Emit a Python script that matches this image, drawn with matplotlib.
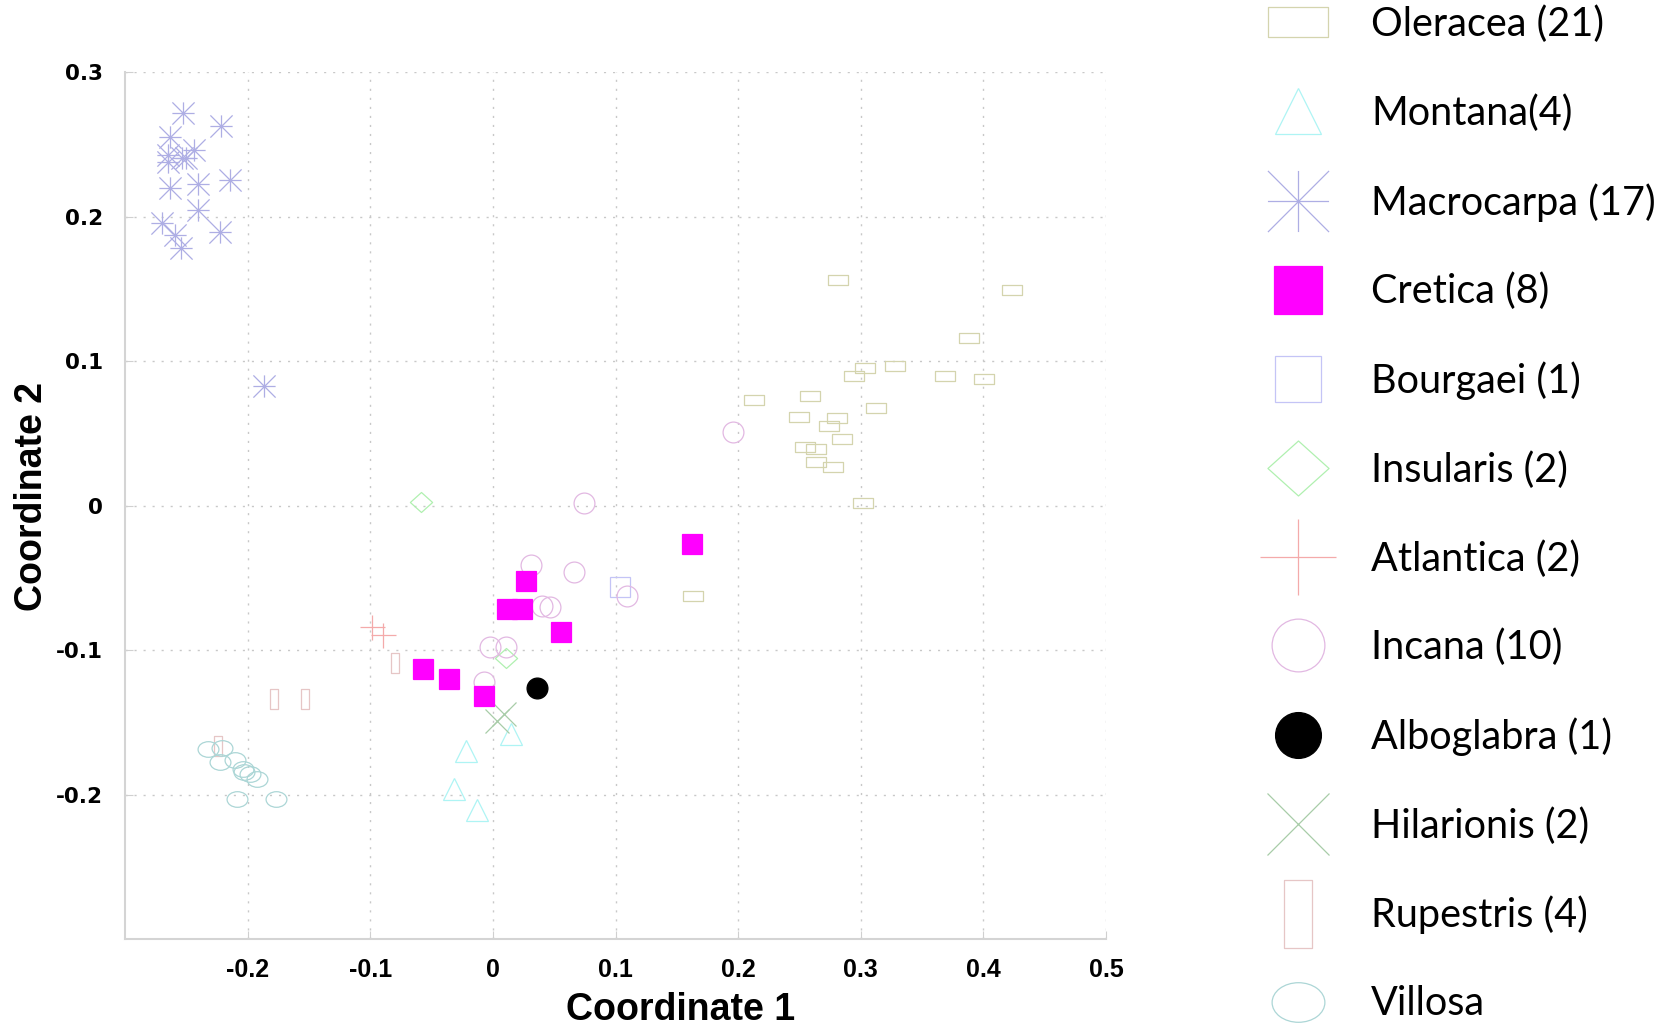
import numpy as np
import matplotlib.pyplot as plt
from matplotlib.path import Path
from matplotlib.transforms import Affine2D
from matplotlib.lines import Line2D

# coordinates
oleracea_x = [0.2817, 0.4232, 0.3880, 0.3033, 0.3281, 0.2943, 0.3683, 0.4002, 0.2125, 0.2587, 0.3125,
              0.2494, 0.2803, 0.2740, 0.2847, 0.2541, 0.2631, 0.2631, 0.2770, 0.3016, 0.1634]
oleracea_y = [0.1561, 0.1494, 0.1159, 0.0954, 0.0966, 0.0899, 0.0899, 0.0873, 0.0731, 0.0756, 0.0678,
              0.0614, 0.0604, 0.0552, 0.0459, 0.0407, 0.0395, 0.0303, 0.0266, 0.0018, -0.0628]
montana_x = [-0.0221, -0.0315, -0.0129, 0.0144]
montana_y = [-0.1697, -0.1961, -0.2110, -0.1582]
macrocarpa_x = [-0.2528, -0.2219, -0.2634, -0.2438, -0.2651, -0.2539, -0.2651, -0.2506, -0.2634,
                -0.2402, -0.2143, -0.2402, -0.2697, -0.2596, -0.2225, -0.2541, -0.1864]
macrocarpa_y = [0.2717, 0.2625, 0.2552, 0.2459, 0.2423, 0.2407, 0.2379, 0.2407, 0.2200,
                0.2228, 0.2252, 0.2043, 0.1959, 0.1873, 0.1890, 0.1786, 0.0828]
cretica_x = [0.1620, 0.0267, 0.0117, 0.0240, 0.0554, -0.0569, -0.0356, -0.0077]
cretica_y = [-0.0267, -0.0524, -0.0717, -0.0717, -0.0876, -0.1131, -0.1198, -0.1317]
bourgaei_x = [0.1033]
bourgaei_y = [-0.0563]
insularis_x = [-0.0590, 0.0103]
insularis_y = [0.0025, -0.1053]
atlantica_x = [-0.0989, -0.0899]
atlantica_y = [-0.0841, -0.0897]
incana_x = [0.1956, 0.0740, 0.0309, 0.0664, 0.1093, 0.0404, 0.0464, -0.0028, 0.0109, -0.0074]
incana_y = [0.0510, 0.0021, -0.0410, -0.0460, -0.0628, -0.0692, -0.0703, -0.0979, -0.0979, -0.1221]
alboglabra_x = [0.0357]
alboglabra_y = [-0.1262]
hilarionis_x = [0.0090, 0.0030]
hilarionis_y = [-0.1444, -0.1490]
rupestris_x = [-0.2246, -0.1782, -0.1536, -0.0798]
rupestris_y = [-0.1662, -0.1341, -0.1341, -0.1092]
villosa_x = [-0.2323, -0.2213, -0.2227, -0.2104, -0.2041, -0.2028, -0.1981, -0.1924, -0.2090, -0.1768]
villosa_y = [-0.1686, -0.1681, -0.1777, -0.1759, -0.1823, -0.1846, -0.1858, -0.1892, -0.2034, -0.2034]

labels = ['Oleracea (21)', 'Montana(4)', 'Macrocarpa (17)', 'Cretica (8)', 'Bourgaei (1)', 'Insularis (2)',
          'Atlantica (2)', 'Incana (10)', 'Alboglabra (1)', 'Hilarionis (2)', 'Rupestris (4)', 'Villosa']
xticks = [-0.2, -0.1, 0, 0.1, 0.2, 0.3, 0.4, 0.5]
xticklabels = ['-0.2', '-0.1', '0', '0.1', '0.2', '0.3', '0.4', '0.5']
yticks = [-0.2, -0.1, 0, 0.1, 0.2, 0.3]
yticklabels = ['-0.2', '-0.1', '0', '0.1', '0.2', '0.3']

# marker shapes
def box(w, h):
    return Path([(-w, -h), (w, -h), (w, h), (-w, h), (-w, -h)], closed=True)

wide_rect = box(1, 0.5)
tall_rect = box(0.4, 1)
ellipse = Affine2D().scale(1, 0.75).transform_path(Path.unit_circle())
diamond = Path([(0, -0.9), (1, 0), (0, 0.9), (-1, 0), (0, -0.9)], closed=True)
M, L = Path.MOVETO, Path.LINETO
asterisk = Path([(-1, 0), (1, 0), (0, -1), (0, 1), (-1, -1), (1, 1), (-1, 1), (1, -1)], [M, L] * 4)

# (x, y, marker, color, filled, plot size, legend size, zorder)
groups = [
    (oleracea_x, oleracea_y, wide_rect, '#d4d4ae', False, 15, 43, 2),
    (montana_x, montana_y, '^', '#aef4f4', False, 16, 33, 2),
    (macrocarpa_x, macrocarpa_y, asterisk, '#aeaee4', False, 16, 44, 2),
    (cretica_x, cretica_y, 's', '#ff00ff', True, 15, 34, 4),
    (bourgaei_x, bourgaei_y, 's', '#c4c4f6', False, 15, 33, 2),
    (insularis_x, insularis_y, diamond, '#b0f0b0', False, 16, 44, 2),
    (atlantica_x, atlantica_y, '+', '#f4aaaa', False, 18, 55, 2),
    (incana_x, incana_y, 'o', '#e2b8e2', False, 15, 38, 2),
    (alboglabra_x, alboglabra_y, 'o', 'black', True, 15, 33, 4),
    (hilarionis_x, hilarionis_y, 'x', '#a8cca8', False, 17, 45, 2),
    (rupestris_x, rupestris_y, tall_rect, '#e6c6c6', False, 15, 49, 2),
    (villosa_x, villosa_y, ellipse, '#acd6d6', False, 15, 38, 2),
]

fig = plt.figure(figsize=(16.7, 10.3), dpi=100)
ax = fig.add_axes([0.0749, 0.0883, 0.5874, 0.8417])

handles = []
for x, y, mk, col, filled, ms, lms, z in groups:
    fc = col if filled else 'none'
    ax.plot(x, y, ls='none', marker=mk, ms=ms, mec=col, mfc=fc, mew=0.9, zorder=z)
    handles.append(Line2D([], [], ls='none', marker=mk, ms=lms, mec=col, mfc=fc, mew=0.9))

ax.set_xlim(-0.3, 0.5)
ax.set_ylim(-0.3, 0.3)
ax.set_xticks(xticks)
ax.set_xticklabels(xticklabels, fontsize=18, fontweight='bold', family='Liberation Sans')
ax.set_yticks(yticks)
ax.set_yticklabels(yticklabels, fontsize=15.5, fontweight='bold', family='DejaVu Sans')
ax.tick_params(axis='x', direction='in', length=6, color='#d0d0d0', pad=14)
ax.tick_params(axis='y', direction='in', length=6, color='#d0d0d0', pad=16)
ax.grid(True, ls=(0, (1.5, 5)), color='#c8c8c8', lw=1)
for s in ['top', 'right']:
    ax.spines[s].set_visible(False)
for s in ['left', 'bottom']:
    ax.spines[s].set_color('#d4d4d4')
    ax.spines[s].set_linewidth(1.5)

ax.set_xlabel('Coordinate 1', fontsize=27, fontweight='bold', family='Liberation Sans', va='center')
ax.set_ylabel('Coordinate 2', fontsize=27, fontweight='bold', family='Liberation Sans', va='center')
ax.xaxis.set_label_coords(0.566, -0.082)
ax.yaxis.set_label_coords(-0.0947, 0.51)

fig.legend(handles, labels, loc='upper left', bbox_to_anchor=(0.7536, 0.9945), frameon=False,
           prop={'family': 'Lato', 'size': 28.5}, handlelength=2.0, handletextpad=0.84,
           labelspacing=1.29, borderpad=0, borderaxespad=0)

fig.savefig('out.png', dpi=100)
